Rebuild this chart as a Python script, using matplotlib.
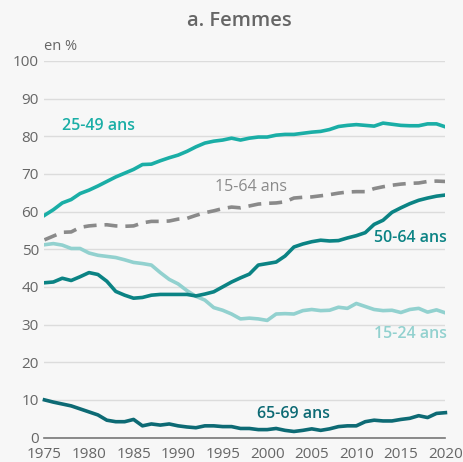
import numpy as np
import matplotlib.pyplot as plt

plt.rcParams['font.family'] = ['Open Sans', 'DejaVu Sans']

years = np.arange(1975, 2021)

age_25_49 = [59.0, 60.5, 62.3, 63.2, 64.8, 65.7, 66.8, 68.0, 69.2, 70.2,
             71.2, 72.5, 72.6, 73.5, 74.3, 75.0, 76.0, 77.2, 78.2, 78.7,
             79.0, 79.5, 79.0, 79.5, 79.8, 79.8, 80.3, 80.5, 80.5, 80.8,
             81.1, 81.3, 81.8, 82.6, 82.9, 83.1, 82.9, 82.7, 83.5, 83.2,
             82.9, 82.8, 82.8, 83.3, 83.3, 82.5]
age_15_64 = [52.5, 53.5, 54.5, 54.6, 55.8, 56.2, 56.4, 56.5, 56.2, 56.1,
             56.2, 57.0, 57.4, 57.4, 57.5, 58.0, 58.2, 59.0, 59.7, 60.2,
             60.8, 61.2, 61.0, 61.5, 62.0, 62.2, 62.3, 62.6, 63.6, 63.8,
             63.9, 64.2, 64.5, 64.9, 65.2, 65.3, 65.3, 66.1, 66.6, 67.0,
             67.3, 67.5, 67.6, 68.0, 68.1, 68.0]
age_15_24 = [51.2, 51.5, 51.1, 50.2, 50.2, 49.0, 48.4, 48.1, 47.8, 47.2,
             46.5, 46.2, 45.8, 43.8, 42.0, 40.8, 39.0, 37.5, 36.5, 34.5,
             33.8, 32.8, 31.5, 31.7, 31.5, 31.1, 32.8, 32.9, 32.8, 33.7,
             34.0, 33.7, 33.8, 34.6, 34.3, 35.6, 34.8, 34.0, 33.7, 33.8,
             33.2, 34.0, 34.3, 33.3, 33.9, 33.1]
age_50_64 = [41.1, 41.3, 42.3, 41.7, 42.7, 43.8, 43.3, 41.5, 38.8, 37.8,
             37.0, 37.2, 37.8, 38.0, 38.0, 38.0, 38.0, 37.6, 38.1, 38.7,
             40.0, 41.3, 42.4, 43.4, 45.8, 46.2, 46.6, 48.2, 50.6, 51.4,
             52.0, 52.4, 52.2, 52.3, 53.0, 53.6, 54.4, 56.6, 57.7, 59.8,
             61.0, 62.1, 63.0, 63.6, 64.1, 64.4]
age_65_69 = [10.0, 9.4, 8.9, 8.4, 7.6, 6.8, 6.0, 4.6, 4.2, 4.2,
             4.8, 3.1, 3.6, 3.3, 3.6, 3.1, 2.8, 2.6, 3.1, 3.1,
             2.9, 2.9, 2.4, 2.4, 2.1, 2.1, 2.4, 1.9, 1.6, 1.9,
             2.3, 1.9, 2.3, 2.9, 3.1, 3.1, 4.2, 4.6, 4.4, 4.4,
             4.8, 5.1, 5.8, 5.3, 6.4, 6.6]

BG = '#f7f7f7'
TXT = '#666666'


def main():
    fig = plt.figure(figsize=(4.63, 4.62), dpi=100, facecolor=BG)
    ax = fig.add_axes([0.096, 0.053, 0.866, 0.815], facecolor=BG)

    lw = 2.6
    ax.plot(years, age_25_49, color='#1aaea6', lw=lw)
    ax.plot(years, age_15_24, color='#92d1cf', lw=lw)
    ax.plot(years, age_15_64, color='#8a8a8a', lw=lw, dashes=(3.6, 2.2))
    ax.plot(years, age_50_64, color='#0b8384', lw=lw)
    ax.plot(years, age_65_69, color='#0d6a74', lw=lw, clip_on=False)

    ax.set_xlim(1975, 2020)
    ax.set_ylim(0, 100)
    ax.set_xticks(np.arange(1975, 2021, 5))
    ax.set_yticks(np.arange(0, 101, 10))
    ax.grid(axis='y', color='#dcdcdc', lw=1)
    ax.set_axisbelow(True)
    for s in ['top', 'right', 'left']:
        ax.spines[s].set_visible(False)
    ax.spines['bottom'].set_color('#777777')
    ax.spines['bottom'].set_linewidth(1.2)
    ax.tick_params(length=0, labelsize=11, colors=TXT, pad=4)
    ax.tick_params(axis='x', pad=7)

    fs = 11.5
    ax.text(1981.1, 82.7, '25-49 ans', color='#1aaea6', fontsize=fs,
            fontweight='semibold', ha='center', va='center')
    ax.text(1998.2, 66.6, '15-64 ans', color='#8a8a8a', fontsize=fs,
            ha='center', va='center')
    ax.text(2020.2, 53.0, '50-64 ans', color='#0b8384', fontsize=fs,
            fontweight='semibold', ha='right', va='center')
    ax.text(2020.2, 27.6, '15-24 ans', color='#92d1cf', fontsize=fs,
            fontweight='semibold', ha='right', va='center')
    ax.text(2002.9, 6.3, '65-69 ans', color='#0d6a74', fontsize=fs,
            fontweight='semibold', ha='center', va='center')

    fig.text(0.518, 0.955, 'a. Femmes', color=TXT, fontsize=14.5,
             fontweight='semibold', ha='center', va='center')
    fig.text(0.096, 0.9, 'en %', color=TXT, fontsize=10.5,
             ha='left', va='center')

    fig.savefig('out.png', dpi=100, facecolor=BG)


if __name__ == '__main__':
    main()
